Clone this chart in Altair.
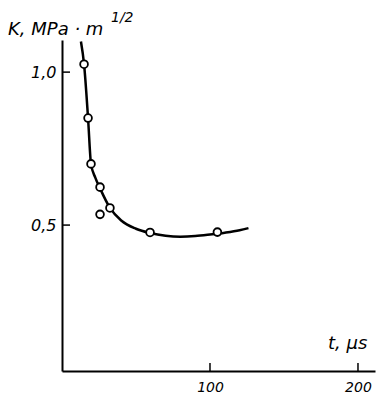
import altair as alt
import pandas as pd

# measured points
pt_t = [14.9, 17.6, 19.6, 25.7, 32.4, 25.7, 59.5, 105.0]
pt_k = [1.026, 0.85, 0.70, 0.624, 0.556, 0.535, 0.476, 0.477]

# fitted curve
cv_t = [12.8, 14.9, 17.6, 19.6, 22.5, 25.7, 32.4, 40, 50, 59.5, 70, 80, 90, 100, 110, 120, 126]
cv_k = [1.10, 1.026, 0.85, 0.70, 0.655, 0.620, 0.556, 0.515, 0.488, 0.474, 0.465, 0.462, 0.464, 0.469, 0.475, 0.483, 0.49]

y_ticks = [0.5, 1.0]
x_ticks = [100, 200]

W, H = 313, 331
FONT = "DejaVu Sans"

pts = pd.DataFrame({"t": pt_t, "k": pt_k})
cv = pd.DataFrame({"t": cv_t, "k": cv_k})
yt = pd.DataFrame({"k": y_ticks})
xt = pd.DataFrame({"t": x_ticks})

xs = alt.Scale(domain=[0, 211.5], nice=False, zero=False)
ys = alt.Scale(domain=[0.023, 1.105], nice=False, zero=False)

xax = alt.Axis(values=x_ticks, ticks=False, labelPadding=9, grid=False, title=None,
               domainColor="black", domainWidth=2, labelFont=FONT, labelFontStyle="italic",
               labelFontSize=14, labelColor="black")
yax = alt.Axis(values=y_ticks, ticks=False, labelPadding=6, grid=False, title=None,
               format=".1f", labelExpr="replace(datum.label, '.', ',')",
               domainColor="black", domainWidth=2, labelFont=FONT, labelFontStyle="italic",
               labelFontSize=16, labelColor="black")

line = alt.Chart(cv).mark_line(color="black", strokeWidth=2.5, interpolate="monotone").encode(
    x=alt.X("t:Q", scale=xs, axis=xax),
    y=alt.Y("k:Q", scale=ys, axis=yax),
)
points = alt.Chart(pts).mark_point(shape="circle", size=60, filled=True, fill="white",
                                   stroke="black", strokeWidth=1.8, opacity=1).encode(
    x=alt.X("t:Q", scale=xs), y=alt.Y("k:Q", scale=ys))

ytick = alt.Chart(yt).mark_rule(color="black", strokeWidth=1.5).encode(
    y=alt.Y("k:Q", scale=ys), x=alt.value(0), x2=alt.value(8))
xtick = alt.Chart(xt).mark_rule(color="black", strokeWidth=1.5).encode(
    x=alt.X("t:Q", scale=xs), y=alt.value(H), y2=alt.value(H - 8))

ylab = alt.Chart(pd.DataFrame({"s": ["K, MPa · m"]})).mark_text(
    align="left", baseline="alphabetic", font=FONT, fontStyle="italic", fontSize=18, color="black"
).encode(text="s:N", x=alt.value(-54), y=alt.value(-5))
ysup = alt.Chart(pd.DataFrame({"s": ["1/2"]})).mark_text(
    align="left", baseline="alphabetic", font=FONT, fontStyle="italic", fontSize=14, color="black"
).encode(text="s:N", x=alt.value(49), y=alt.value(-18))
xlab = alt.Chart(pd.DataFrame({"s": ["t, μs"]})).mark_text(
    align="left", baseline="alphabetic", font=FONT, fontStyle="italic", fontSize=18, color="black"
).encode(text="s:N", x=alt.value(266), y=alt.value(309))

chart = alt.layer(line, points, ytick, xtick, ylab, ysup, xlab).properties(
    width=W, height=H,
    autosize=alt.AutoSizeParams(type="none"),
    padding={"left": 62, "top": 40, "right": 15, "bottom": 29},
    background="white",
).configure_view(stroke=None)

chart.save("out.html", embed_options={"renderer": "svg", "actions": False})
